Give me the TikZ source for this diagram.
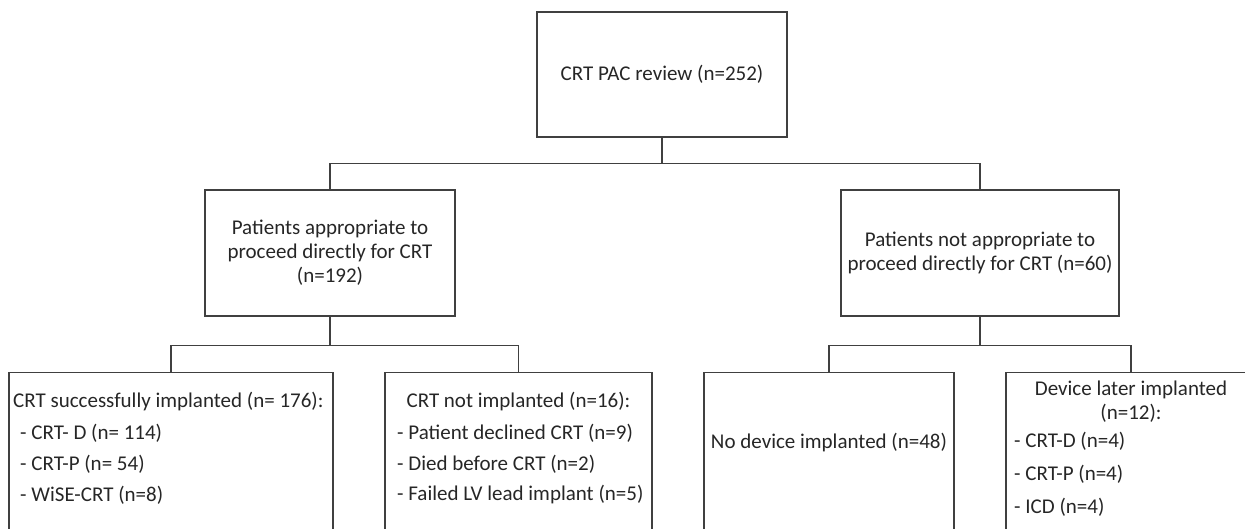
\documentclass[tikz,border=0pt]{standalone}
\usepackage{fontspec}
\setmainfont{Carlito}
\definecolor{flowLine}{HTML}{404040}
\definecolor{flowText}{HTML}{262626}

\begin{document}
\begin{tikzpicture}[x=1pt,y=-1pt,font=\fontsize{21}{24}\selectfont,
  box/.style={draw=flowLine,line width=1.2pt,inner sep=0pt,text=flowText,align=center},
  txt/.style={inner sep=0pt,text=flowText},
  link/.style={draw=flowLine,line width=1.2pt}]
  \useasboundingbox (0,0) rectangle (1245,529);

  % review and the two groups
  \node[box,minimum width=250,minimum height=125] (review) at (662,74.5) {CRT PAC review (n=252)};
  \node[box,minimum width=250,minimum height=126] (approp) at (330,253)
    {Patients appropriate to\\proceed directly for CRT\\(n=192)};
  \node[box,minimum width=278,minimum height=126] (notapprop) at (980,253)
    {Patients not appropriate to\\proceed directly for CRT (n=60)};

  % outcome boxes (run past the lower edge)
  \node[box,minimum width=324,minimum height=200,anchor=north] (implanted) at (171,372) {};
  \node[box,minimum width=267,minimum height=200,anchor=north] (notimpl) at (518.5,372) {};
  \node[box,minimum width=250,minimum height=200,anchor=north] (nodevice) at (829,372) {};
  \node[box,minimum width=250,minimum height=200,anchor=north] (later) at (1131,372) {};

  \draw[link] (review.south) -- ++(0,26) -| (approp.north);
  \draw[link] (review.south) -- ++(0,26) -| (notapprop.north);
  \draw[link] (approp.south) -- ++(0,29) -| (implanted.north);
  \draw[link] (approp.south) -- ++(0,29) -| (notimpl.north);
  \draw[link] (notapprop.south) -- ++(0,29) -| (nodevice.north);
  \draw[link] (notapprop.south) -- ++(0,29) -| (later.north);

  \node[txt,anchor=west] (implhead) at (13,402) {CRT successfully implanted (n= 176):};
  \foreach \lbl [count=\i] in {{- CRT- D (n= 114)},{- CRT-P (n= 54)},{- WiSE-CRT (n=8)}}
    \node[txt,anchor=west] (impl\i) at (20,402+31*\i) {\lbl};

  \node[txt] (notimplhead) at (518.5,402) {CRT not implanted (n=16):};
  \foreach \lbl [count=\i] in {{- Patient declined CRT (n=9)},{- Died before CRT (n=2)},{- Failed LV lead implant (n=5)}}
    \node[txt,anchor=west] (notimpl\i) at (397,402+31*\i) {\lbl};

  \node[txt] (nodevicetxt) at (829,443) {No device implanted (n=48)};

  \node[txt,align=center] (laterhead) at (1131,402) {Device later implanted\\(n=12):};
  \foreach \lbl [count=\i] in {{- CRT-D (n=4)},{- CRT-P (n=4)},{- ICD (n=4)}}
    \node[txt,anchor=west] (later\i) at (1014,408+33*\i) {\lbl};
\end{tikzpicture}
\end{document}
